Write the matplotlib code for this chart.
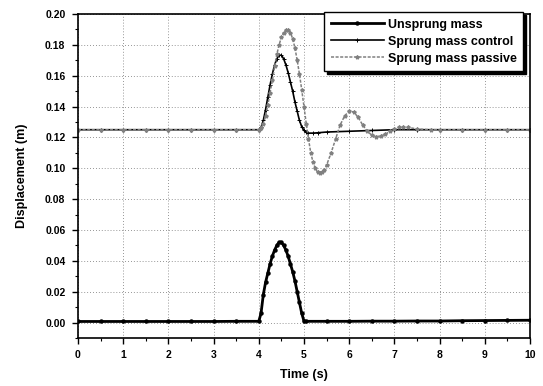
import matplotlib
matplotlib.use("Agg")
import matplotlib.pyplot as plt
from matplotlib.ticker import MultipleLocator

plt.rcParams['font.family'] = ['Liberation Sans', 'DejaVu Sans']
plt.rcParams['font.weight'] = 'bold'

# 数据
t_unsprung = [0, 0.5, 1, 1.5, 2, 2.5, 3, 3.5, 4.0, 4.05, 4.1, 4.15, 4.2, 4.25, 4.3, 4.35,
              4.4, 4.45, 4.5, 4.55, 4.6, 4.65, 4.7, 4.75, 4.8, 4.85, 4.9, 4.95, 5.0, 5.05,
              5.5, 6, 6.5, 7, 7.5, 8, 8.5, 9, 9.5, 10]
unsprung = [0.0007, 0.0007, 0.0007, 0.0007, 0.0007, 0.0007, 0.0007, 0.0008, 0.0008, 0.006,
            0.018, 0.026, 0.032, 0.038, 0.043, 0.047, 0.050, 0.052, 0.052, 0.050, 0.047,
            0.043, 0.038, 0.033, 0.027, 0.020, 0.013, 0.006, 0.001, 0.0008,
            0.0008, 0.0008, 0.0009, 0.0009, 0.001, 0.001, 0.0012, 0.0013, 0.0014, 0.0015]

t_control = [0, 0.5, 1, 1.5, 2, 2.5, 3, 3.5, 4.0, 4.05, 4.1, 4.15, 4.2, 4.25, 4.3, 4.35,
             4.4, 4.45, 4.5, 4.55, 4.6, 4.65, 4.7, 4.75, 4.8, 4.85, 4.9, 4.95, 5.0, 5.05,
             5.1, 5.2, 5.3, 5.5, 6.0, 6.5, 7.0, 7.5, 8, 8.5, 9, 9.5, 10]
control = [0.125, 0.125, 0.125, 0.125, 0.125, 0.125, 0.125, 0.125, 0.125, 0.1265,
           0.131, 0.138, 0.146, 0.154, 0.161, 0.167, 0.171, 0.1733, 0.1733, 0.171,
           0.167, 0.162, 0.156, 0.150, 0.143, 0.137, 0.131, 0.127, 0.1245, 0.1232,
           0.1228, 0.1228, 0.123, 0.1235, 0.124, 0.1245, 0.125, 0.125, 0.125, 0.125,
           0.125, 0.125, 0.125]

t_passive = [0, 0.5, 1, 1.5, 2, 2.5, 3, 3.5, 4.0, 4.05, 4.1, 4.15, 4.2, 4.25, 4.3, 4.35,
             4.4, 4.45, 4.5, 4.55, 4.6, 4.65, 4.7, 4.75, 4.8, 4.85, 4.9, 4.95, 5.0, 5.05,
             5.1, 5.15, 5.2, 5.25, 5.3, 5.35, 5.4, 5.45, 5.5, 5.6, 5.7, 5.8, 5.9, 6.0,
             6.1, 6.2, 6.3, 6.4, 6.5, 6.6, 6.7, 6.8, 6.9, 7.0, 7.1, 7.2, 7.3, 7.5, 7.8,
             8, 8.5, 9, 9.5, 10]
passive = [0.125, 0.125, 0.125, 0.125, 0.125, 0.125, 0.125, 0.125, 0.125, 0.126,
           0.129, 0.134, 0.141, 0.149, 0.157, 0.166, 0.174, 0.180, 0.185, 0.188,
           0.1895, 0.1895, 0.188, 0.184, 0.178, 0.170, 0.161, 0.151, 0.140, 0.129,
           0.119, 0.110, 0.104, 0.100, 0.0975, 0.097, 0.0975, 0.099, 0.102, 0.110,
           0.119, 0.128, 0.134, 0.137, 0.1365, 0.133, 0.128, 0.124, 0.1215, 0.1205,
           0.121, 0.122, 0.124, 0.1255, 0.1265, 0.127, 0.1265, 0.1255, 0.125,
           0.125, 0.125, 0.125, 0.125, 0.125]

fig = plt.figure(figsize=(5.43, 3.86), dpi=100)
ax = fig.add_axes([0.1436, 0.1244, 0.8324, 0.8393])

ax.plot(t_unsprung, unsprung, color='black', lw=2.0, marker='o', ms=2.2,
        label='Unsprung mass')
ax.plot(t_control, control, color='black', lw=1.2, marker='+', ms=3, mew=0.7,
        label='Sprung mass control')
ax.plot(t_passive, passive, color='0.5', lw=1.1, ls=(0, (2, 1)), marker='*', ms=2.8,
        label='Sprung mass passive')

ax.set_xlim(0, 10)
ax.set_ylim(-0.01, 0.20)
ax.xaxis.set_major_locator(MultipleLocator(1))
ax.xaxis.set_minor_locator(MultipleLocator(0.5))
ax.yaxis.set_major_locator(MultipleLocator(0.02))
ax.yaxis.set_minor_locator(MultipleLocator(0.01))
ax.yaxis.set_major_formatter(plt.FuncFormatter(lambda v, p: f'{v:.2f}'))
ax.tick_params(which='major', direction='out', length=4, width=1, labelsize=7.5)
ax.tick_params(axis='y', which='major', pad=5)
ax.tick_params(axis='x', which='major', pad=5)
ax.tick_params(which='minor', direction='out', length=2, width=0.8)
ax.grid(True, which='major', ls=(0, (1, 2.5)), lw=0.6, color='0.45')
for s in ax.spines.values():
    s.set_linewidth(1.2)

ax.set_xlabel('Time (s)', fontsize=9, fontweight='bold', labelpad=6)
ax.set_ylabel('Displacement (m)', fontsize=9, fontweight='bold', labelpad=12)

leg = ax.legend(loc='upper right', bbox_to_anchor=(0.985, 1.005), fontsize=9,
                frameon=True, fancybox=False,
                shadow={'color': 'black', 'alpha': 1}, borderaxespad=0.0,
                handlelength=4.3, handletextpad=0.3, labelspacing=0.4,
                borderpad=0.5)
leg.get_frame().set_edgecolor('black')
leg.get_frame().set_linewidth(1.0)
for txt in leg.get_texts():
    txt.set_fontweight('bold')

fig.savefig('out.png', dpi=100)
